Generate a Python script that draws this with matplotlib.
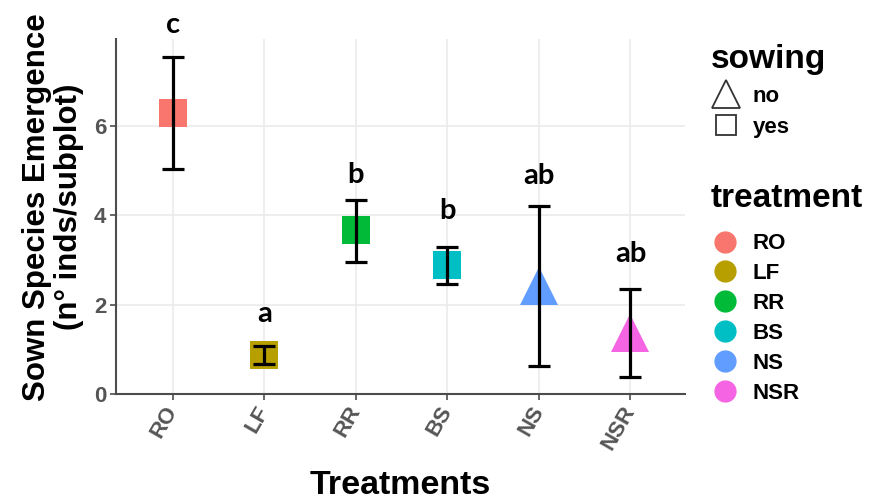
import numpy as np
import matplotlib.pyplot as plt
from matplotlib.lines import Line2D

treatments = ["RO", "LF", "RR", "BS", "NS", "NSR"]
means = [6.29, 0.87, 3.66, 2.88, 2.41, 1.36]
lower = [5.04, 0.67, 2.95, 2.46, 0.63, 0.38]
upper = [7.54, 1.07, 4.35, 3.30, 4.20, 2.34]
sowing = ["yes", "yes", "yes", "yes", "no", "no"]
letters = ["c", "a", "b", "b", "ab", "ab"]
letter_y = [8.08, 1.62, 4.73, 3.92, 4.70, 2.95]
colors = ["#F8766D", "#B79F00", "#00BA38", "#00BFC4", "#619CFF", "#F564E3"]

plt.rcParams['font.family'] = ['Liberation Sans', 'DejaVu Sans']

fig = plt.figure(figsize=(8.72, 5.01), dpi=100)
ax = fig.add_axes([0.133, 0.214, 0.653, 0.708])

x = np.arange(1, len(treatments) + 1)
means = np.array(means)
err = [means - np.array(lower), np.array(upper) - means]

for i in range(len(x)):
    if sowing[i] == "yes":
        ax.plot(x[i], means[i], marker='s', ms=19.5, color=colors[i], zorder=3,
                markeredgewidth=0)
    else:
        ax.plot(x[i], means[i], marker='^', ms=27, color=colors[i], zorder=3,
                markeredgewidth=0)

ax.errorbar(x, means, yerr=err, fmt='none', ecolor='black', elinewidth=2.3,
            capsize=8, capthick=2.3, zorder=4)

for i in range(len(x)):
    ax.text(x[i], letter_y[i], letters[i], ha='center', va='baseline',
            fontsize=21, fontweight='bold', family=['Lato', 'DejaVu Sans'],
            clip_on=False)

ax.set_xlim(0.38, 6.6)
ax.set_ylim(0, 7.95)
ax.set_xticks(x)
ax.set_xticklabels(treatments, rotation=60, ha='right', va='center',
                   rotation_mode='anchor')
ax.set_yticks([0, 2, 4, 6])
ax.tick_params(axis='both', colors='#4D4D4D', labelsize=16, length=4, width=1.2)
for lab in ax.get_xticklabels() + ax.get_yticklabels():
    lab.set_fontweight('bold')
    lab.set_color('#555555')
ax.tick_params(axis='x', pad=6)
ax.tick_params(axis='y', pad=3)

ax.grid(True, color='#EBEBEB', lw=1.2)
ax.set_axisbelow(True)
for s in ['top', 'right']:
    ax.spines[s].set_visible(False)
for s in ['left', 'bottom']:
    ax.spines[s].set_color('#4D4D4D')
    ax.spines[s].set_linewidth(1.5)

ax.set_ylabel("Sown Species Emergence\n(n\u00b0 inds/subplot)", fontsize=22.5,
              fontweight='bold', linespacing=1.1)
ax.yaxis.set_label_coords(-0.056, 0.527)
ax.set_xlabel("Treatments", fontsize=24.5, fontweight='bold')
ax.xaxis.set_label_coords(0.5, -0.215)

# legends
sow_handles = [
    Line2D([], [], marker='^', ls='', ms=20, markerfacecolor='white',
           markeredgecolor='#333333', markeredgewidth=1.3),
    Line2D([], [], marker='s', ls='', ms=14, markerfacecolor='white',
           markeredgecolor='#333333', markeredgewidth=1.3),
]
leg1 = fig.legend(sow_handles, ["no", "yes"], title="sowing",
                  loc='upper left', bbox_to_anchor=(0.815, 0.912), frameon=False,
                  prop={'size': 16, 'weight': 'bold'}, handletextpad=0.5,
                  labelspacing=0.45, handlelength=1.4, borderaxespad=0,
                  borderpad=0)
leg1.get_title().set_fontsize(24)
leg1.get_title().set_fontweight('bold')
leg1._legend_box.align = "left"
leg1._legend_box.sep = 8

trt_handles = [Line2D([], [], marker='o', ls='', ms=15, color=c) for c in colors]
leg2 = fig.legend(trt_handles, treatments, title="treatment",
                  loc='upper left', bbox_to_anchor=(0.815, 0.635), frameon=False,
                  prop={'size': 16, 'weight': 'bold'}, handletextpad=0.6,
                  labelspacing=0.4, handlelength=1.3, borderaxespad=0,
                  borderpad=0)
leg2.get_title().set_fontsize(24)
leg2.get_title().set_fontweight('bold')
leg2._legend_box.align = "left"
leg2._legend_box.sep = 14

fig.savefig("out.png", dpi=100)
